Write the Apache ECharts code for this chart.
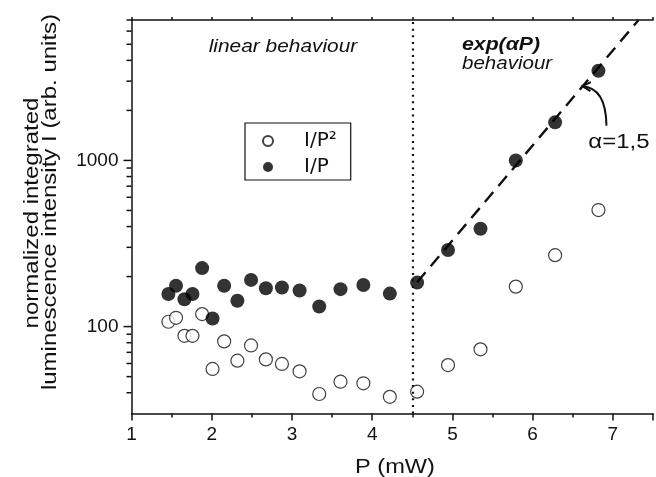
<!DOCTYPE html>
<html><head><meta charset="utf-8">
<script src="https://cdn.jsdelivr.net/npm/echarts@6/dist/echarts.min.js"></script>
<style>html,body{margin:0;padding:0;background:#fff}#c{width:656px;height:477px}</style>
</head><body><div id="c"></div>
<script>
// ---- data ----
const powerMW = [1.46, 1.555, 1.66, 1.76, 1.88, 2.01, 2.155, 2.32, 2.49, 2.675, 2.875, 3.095, 3.34, 3.605, 3.89, 4.22, 4.56, 4.945, 5.35, 5.79, 6.28, 6.82];
const intensityPerP = [157, 176, 146, 157, 225, 112, 176, 143, 191, 170, 172, 165, 132, 168, 178, 158, 184, 289, 388, 1000, 1695, 3465];
const intensityPerP2 = [107, 113, 88, 88, 119, 55.6, 81.5, 62.4, 77, 63.5, 59.6, 53.8, 39.3, 46.6, 45.6, 37.8, 40.6, 58.7, 73, 174, 269, 503];
const fitP = [4.56, 7.32];
const fitI = [185, 7000];
const boundaryP = [4.5];
const xTickLabels = [1, 2, 3, 4, 5, 6, 7];
const yMajorTicks = [100, 1000];
const yMinorTicks = [40, 50, 60, 70, 80, 90, 200, 300, 400, 500, 600, 700, 800, 900, 2000, 3000, 4000, 5000, 6000, 7000];
const seriesNames = ['I/P\u00B2', 'I/P'];
const arrowTip = [6.62, 2800];
const arrowTail = [6.92, 1620];

const FONT = "'Liberation Sans', Arial, sans-serif";
const INK = '#111';
const chart = echarts.init(document.getElementById('c'), null, {renderer: 'canvas'});
const axLine = {color: INK, width: 1.5};

const option = {
  animation: false,
  backgroundColor: '#fff',
  grid: {left: 131.5, right: -8.2, top: 20, bottom: 63.5, containLabel: false},
  xAxis: [{
    type: 'value', min: 1, max: 7.5, interval: 1, position: 'bottom',
    axisLine: {show: true, onZero: false, lineStyle: axLine},
    axisTick: {show: true, length: 7, lineStyle: axLine},
    minorTick: {show: true, splitNumber: 2, length: 4, lineStyle: axLine},
    splitLine: {show: false}, minorSplitLine: {show: false},
    axisLabel: {margin: 12, fontSize: 19, fontFamily: FONT, color: INK,
      formatter: v => xTickLabels.indexOf(v) >= 0 ? String(v) : ''}
  }, {
    type: 'value', min: 1, max: 7.5, interval: 0.5, position: 'top',
    axisLine: {show: true, onZero: false, lineStyle: axLine},
    axisTick: {show: true, length: 3, lineStyle: axLine},
    axisLabel: {show: false}, splitLine: {show: false}
  }],
  yAxis: {
    type: 'log', logBase: 10, min: 30, max: 7000,
    axisLine: {show: true, onZero: false, lineStyle: axLine},
    axisTick: {show: false},
    splitLine: {show: false},
    axisLabel: {margin: 13, fontSize: 19, fontFamily: FONT, color: INK,
      formatter: v => { const r = Math.round(v); return yMajorTicks.indexOf(r) >= 0 ? String(r) : ''; }}
  },
  legend: {
    orient: 'vertical', left: 245, top: 123,
    padding: [8, 14, 3, 17], itemGap: 6, itemWidth: 10, itemHeight: 10,
    borderColor: INK, borderWidth: 1.2, selectedMode: false,
    textStyle: {fontSize: 20, fontFamily: "'DejaVu Sans', sans-serif", color: INK, padding: [0, 0, 0, 26]},
    data: [{name: seriesNames[0], icon: 'circle'}, {name: seriesNames[1], icon: 'circle'}]
  },
  series: [
    {
      name: 'fit', type: 'line', z: 2, symbol: 'none', silent: true,
      data: fitP.map((p, i) => [p, fitI[i]]),
      lineStyle: {type: [13, 8], width: 2.4, color: INK},
      markLine: {silent: true, symbol: 'none', label: {show: false},
        lineStyle: {type: [2, 4.6], width: 2.2, color: INK},
        data: boundaryP.map(v => ({xAxis: v}))}
    },
    {
      name: seriesNames[0], type: 'scatter', z: 3, symbol: 'circle', symbolSize: 13,
      itemStyle: {color: '#fff', borderColor: INK, borderWidth: 1.2},
      emphasis: {disabled: true},
      data: powerMW.map((p, i) => [p, intensityPerP2[i]])
    },
    {
      name: seriesNames[1], type: 'scatter', z: 4, symbol: 'circle', symbolSize: 14,
      itemStyle: {color: '#000'},
      emphasis: {disabled: true},
      data: powerMW.map((p, i) => [p, intensityPerP[i]])
    },
    {
      type: 'custom', z: 5, silent: true, clip: false,
      data: yMajorTicks.concat(yMinorTicks).map(v => [1, v]),
      encode: {x: 0, y: 1},
      renderItem: (params, api) => {
        const v = api.value(1);
        const p = api.coord([1, v]);
        const len = yMajorTicks.indexOf(v) >= 0 ? 8 : 5;
        return {type: 'line', shape: {x1: p[0] - len, y1: p[1], x2: p[0], y2: p[1]},
          style: {stroke: INK, lineWidth: 1.5}};
      }
    }
  ]
};
chart.setOption(option);

const tip = chart.convertToPixel({xAxisIndex: 0, yAxisIndex: 0}, arrowTip);
const tail = chart.convertToPixel({xAxisIndex: 0, yAxisIndex: 0}, arrowTail);

const txt = (text, x, y, size, opts) => Object.assign({
  type: 'text', x: x, y: y, silent: true,
  style: Object.assign({text: text, fontSize: size, fontFamily: FONT, fill: INK, align: 'center', verticalAlign: 'middle'}, (opts && opts.style) || {})
}, opts && opts.el || {});

chart.setOption({
  graphic: [
    txt('normalized integrated', 32, 213, 20, {el: {rotation: Math.PI / 2, scaleX: 1.2}}),
    txt('luminescence intensity I (arb. units)', 50, 202, 20, {el: {rotation: Math.PI / 2, scaleX: 1.2}}),
    txt('P (mW)', 395, 467, 20, {el: {scaleX: 1.18}}),
    txt('linear behaviour', 283, 47, 18, {el: {scaleX: 1.16}, style: {fontStyle: 'italic'}}),
    txt('exp(\u03B1P)', 462, 45, 18, {el: {scaleX: 1.18}, style: {fontStyle: 'italic', fontWeight: 'bold', align: 'left'}}),
    txt('behaviour', 462, 64, 18, {el: {scaleX: 1.14}, style: {fontStyle: 'italic', align: 'left'}}),
    txt('\u03B1=1,5', 619, 142, 20, {el: {scaleX: 1.2}}),
    {type: 'bezierCurve', silent: true,
      shape: {x1: tail[0], y1: tail[1], cpx1: tail[0] - 0.5, cpy1: tip[1] + 1.5, x2: tip[0], y2: tip[1]},
      style: {stroke: INK, lineWidth: 2, fill: null}},
    {type: 'polyline', silent: true,
      shape: {points: [[tip[0] + 8.5, tip[1] - 4], [tip[0], tip[1]], [tip[0] + 8, tip[1] + 5]]},
      style: {stroke: INK, lineWidth: 2, fill: null}}
  ]
});
</script></body></html>
